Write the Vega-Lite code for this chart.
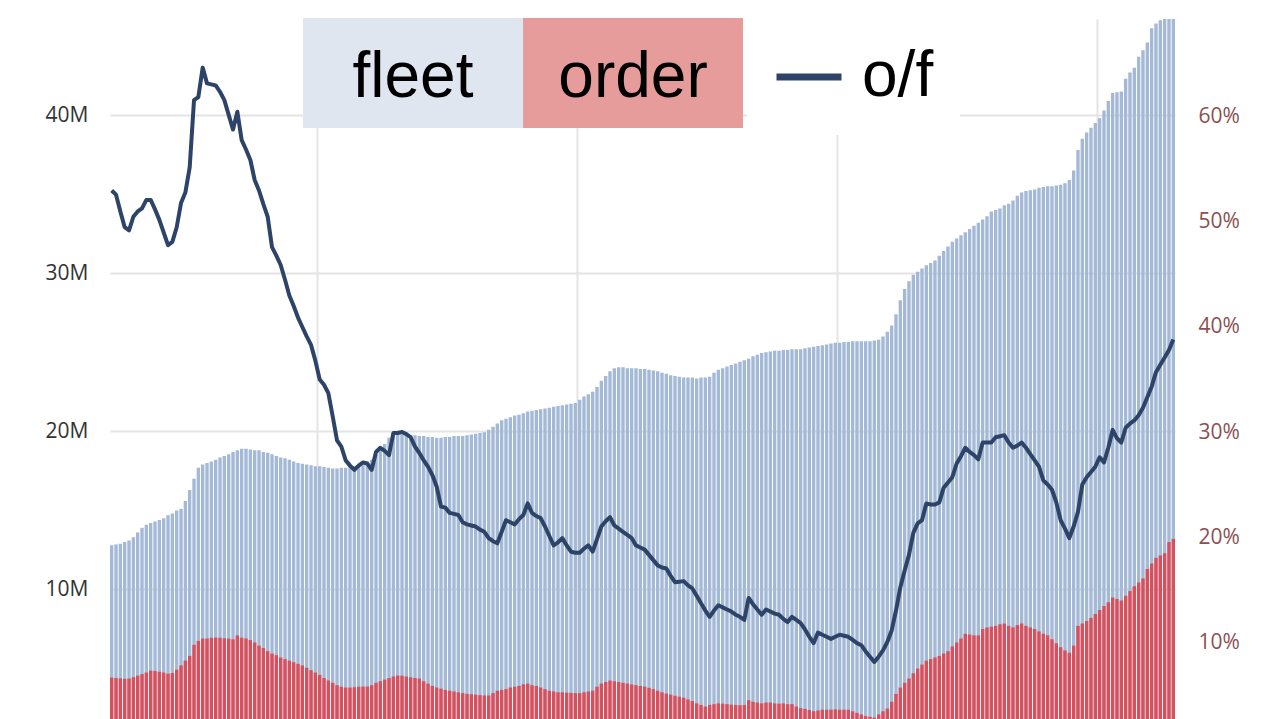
{
  "$schema": "https://vega.github.io/schema/vega-lite/v6.json",
  "width": 1065,
  "height": 700,
  "autosize": {"type": "none"},
  "padding": {"left": 110, "top": 19, "right": 105, "bottom": 0},
  "background": "white",
  "view": {"stroke": null},
  "config": {
    "axis": {"labelFont": "Open Sans", "titleFont": "Open Sans"},
    "legend": {"labelFont": "Liberation Sans"}
  },
  "data": {
    "values": [
      {"m":"2001-01","fleet":12.8,"order":4.43,"of":53.0},{"m":"2001-02","fleet":12.85,"order":4.4,"of":52.6},{"m":"2001-03","fleet":12.9,"order":4.38,"of":51.0},{"m":"2001-04","fleet":13.0,"order":4.35,"of":49.5},{"m":"2001-05","fleet":13.1,"order":4.37,"of":49.2},{"m":"2001-06","fleet":13.3,"order":4.45,"of":50.5},{"m":"2001-07","fleet":13.6,"order":4.55,"of":51.0},{"m":"2001-08","fleet":13.9,"order":4.65,"of":51.3},{"m":"2001-09","fleet":14.1,"order":4.75,"of":52.1},{"m":"2001-10","fleet":14.2,"order":4.87,"of":52.1},{"m":"2001-11","fleet":14.3,"order":4.85,"of":51.2},{"m":"2001-12","fleet":14.4,"order":4.8,"of":50.2},
      {"m":"2002-01","fleet":14.5,"order":4.75,"of":49.0},{"m":"2002-02","fleet":14.7,"order":4.68,"of":47.8},{"m":"2002-03","fleet":14.8,"order":4.72,"of":48.1},{"m":"2002-04","fleet":15.0,"order":4.93,"of":49.5},{"m":"2002-05","fleet":15.1,"order":5.2,"of":51.8},{"m":"2002-06","fleet":15.6,"order":5.5,"of":52.8},{"m":"2002-07","fleet":16.3,"order":5.8,"of":55.2},{"m":"2002-08","fleet":17.0,"order":6.5,"of":61.6},{"m":"2002-09","fleet":17.7,"order":6.75,"of":61.9},{"m":"2002-10","fleet":17.9,"order":6.9,"of":64.7},{"m":"2002-11","fleet":18.0,"order":6.9,"of":63.2},{"m":"2002-12","fleet":18.1,"order":6.95,"of":63.1},
      {"m":"2003-01","fleet":18.2,"order":6.96,"of":63.0},{"m":"2003-02","fleet":18.35,"order":6.95,"of":62.4},{"m":"2003-03","fleet":18.45,"order":6.92,"of":61.6},{"m":"2003-04","fleet":18.55,"order":6.9,"of":60.2},{"m":"2003-05","fleet":18.7,"order":6.85,"of":58.8},{"m":"2003-06","fleet":18.8,"order":7.1,"of":60.5},{"m":"2003-07","fleet":18.9,"order":6.95,"of":57.8},{"m":"2003-08","fleet":18.9,"order":6.9,"of":56.9},{"m":"2003-09","fleet":18.85,"order":6.8,"of":55.9},{"m":"2003-10","fleet":18.8,"order":6.65,"of":54.0},{"m":"2003-11","fleet":18.8,"order":6.45,"of":53.0},{"m":"2003-12","fleet":18.7,"order":6.3,"of":51.7},
      {"m":"2004-01","fleet":18.65,"order":6.1,"of":50.5},{"m":"2004-02","fleet":18.55,"order":5.95,"of":47.6},{"m":"2004-03","fleet":18.45,"order":5.85,"of":46.8},{"m":"2004-04","fleet":18.35,"order":5.7,"of":45.9},{"m":"2004-05","fleet":18.3,"order":5.6,"of":44.5},{"m":"2004-06","fleet":18.2,"order":5.5,"of":43.0},{"m":"2004-07","fleet":18.1,"order":5.4,"of":42.0},{"m":"2004-08","fleet":18.0,"order":5.3,"of":40.9},{"m":"2004-09","fleet":17.95,"order":5.2,"of":40.0},{"m":"2004-10","fleet":17.9,"order":5.05,"of":39.1},{"m":"2004-11","fleet":17.85,"order":4.9,"of":38.3},{"m":"2004-12","fleet":17.8,"order":4.75,"of":36.8},
      {"m":"2005-01","fleet":17.8,"order":4.6,"of":35.0},{"m":"2005-02","fleet":17.75,"order":4.4,"of":34.5},{"m":"2005-03","fleet":17.7,"order":4.25,"of":33.7},{"m":"2005-04","fleet":17.65,"order":4.1,"of":31.5},{"m":"2005-05","fleet":17.65,"order":3.95,"of":29.2},{"m":"2005-06","fleet":17.7,"order":3.85,"of":28.6},{"m":"2005-07","fleet":17.7,"order":3.8,"of":27.3},{"m":"2005-08","fleet":17.75,"order":3.8,"of":26.8},{"m":"2005-09","fleet":17.8,"order":3.82,"of":26.4},{"m":"2005-10","fleet":17.85,"order":3.85,"of":26.8},{"m":"2005-11","fleet":17.85,"order":3.86,"of":27.1},{"m":"2005-12","fleet":17.9,"order":3.86,"of":27.0},
      {"m":"2006-01","fleet":18.2,"order":3.95,"of":26.4},{"m":"2006-02","fleet":18.5,"order":4.1,"of":28.1},{"m":"2006-03","fleet":18.8,"order":4.2,"of":28.5},{"m":"2006-04","fleet":19.2,"order":4.3,"of":28.2},{"m":"2006-05","fleet":19.6,"order":4.4,"of":27.8},{"m":"2006-06","fleet":19.9,"order":4.5,"of":29.9},{"m":"2006-07","fleet":19.85,"order":4.56,"of":29.9},{"m":"2006-08","fleet":19.8,"order":4.55,"of":30.0},{"m":"2006-09","fleet":19.8,"order":4.5,"of":29.8},{"m":"2006-10","fleet":19.75,"order":4.45,"of":29.5},{"m":"2006-11","fleet":19.75,"order":4.4,"of":28.6},{"m":"2006-12","fleet":19.7,"order":4.37,"of":28.0},
      {"m":"2007-01","fleet":19.7,"order":4.2,"of":27.3},{"m":"2007-02","fleet":19.65,"order":4.05,"of":26.7},{"m":"2007-03","fleet":19.65,"order":3.9,"of":25.9},{"m":"2007-04","fleet":19.6,"order":3.8,"of":24.8},{"m":"2007-05","fleet":19.6,"order":3.73,"of":22.9},{"m":"2007-06","fleet":19.65,"order":3.65,"of":22.8},{"m":"2007-07","fleet":19.65,"order":3.6,"of":22.3},{"m":"2007-08","fleet":19.7,"order":3.55,"of":22.2},{"m":"2007-09","fleet":19.7,"order":3.5,"of":22.1},{"m":"2007-10","fleet":19.7,"order":3.45,"of":21.4},{"m":"2007-11","fleet":19.75,"order":3.4,"of":21.2},{"m":"2007-12","fleet":19.8,"order":3.38,"of":21.1},
      {"m":"2008-01","fleet":19.85,"order":3.35,"of":21.0},{"m":"2008-02","fleet":19.9,"order":3.32,"of":20.7},{"m":"2008-03","fleet":19.95,"order":3.3,"of":20.5},{"m":"2008-04","fleet":20.1,"order":3.3,"of":19.9},{"m":"2008-05","fleet":20.3,"order":3.45,"of":19.6},{"m":"2008-06","fleet":20.5,"order":3.6,"of":19.4},{"m":"2008-07","fleet":20.7,"order":3.65,"of":20.5},{"m":"2008-08","fleet":20.8,"order":3.7,"of":21.6},{"m":"2008-09","fleet":20.9,"order":3.8,"of":21.4},{"m":"2008-10","fleet":21.0,"order":3.85,"of":21.2},{"m":"2008-11","fleet":21.05,"order":3.9,"of":21.7},{"m":"2008-12","fleet":21.15,"order":4.0,"of":22.1},
      {"m":"2009-01","fleet":21.25,"order":4.05,"of":23.2},{"m":"2009-02","fleet":21.3,"order":3.95,"of":22.3},{"m":"2009-03","fleet":21.35,"order":3.9,"of":22.0},{"m":"2009-04","fleet":21.4,"order":3.8,"of":21.8},{"m":"2009-05","fleet":21.45,"order":3.7,"of":21.0},{"m":"2009-06","fleet":21.5,"order":3.6,"of":20.1},{"m":"2009-07","fleet":21.55,"order":3.55,"of":19.2},{"m":"2009-08","fleet":21.6,"order":3.5,"of":19.5},{"m":"2009-09","fleet":21.65,"order":3.5,"of":19.9},{"m":"2009-10","fleet":21.7,"order":3.48,"of":19.2},{"m":"2009-11","fleet":21.75,"order":3.46,"of":18.6},{"m":"2009-12","fleet":21.8,"order":3.45,"of":18.5},
      {"m":"2010-01","fleet":22.0,"order":3.45,"of":18.5},{"m":"2010-02","fleet":22.2,"order":3.5,"of":18.9},{"m":"2010-03","fleet":22.35,"order":3.55,"of":19.2},{"m":"2010-04","fleet":22.5,"order":3.6,"of":18.6},{"m":"2010-05","fleet":22.8,"order":3.85,"of":19.8},{"m":"2010-06","fleet":23.2,"order":4.05,"of":21.0},{"m":"2010-07","fleet":23.5,"order":4.15,"of":21.5},{"m":"2010-08","fleet":23.8,"order":4.24,"of":21.9},{"m":"2010-09","fleet":24.0,"order":4.2,"of":21.1},{"m":"2010-10","fleet":24.05,"order":4.15,"of":20.8},{"m":"2010-11","fleet":24.05,"order":4.1,"of":20.5},{"m":"2010-12","fleet":24.0,"order":4.05,"of":20.2},
      {"m":"2011-01","fleet":24.0,"order":4.0,"of":19.9},{"m":"2011-02","fleet":24.0,"order":3.95,"of":19.2},{"m":"2011-03","fleet":23.95,"order":3.9,"of":19.0},{"m":"2011-04","fleet":23.95,"order":3.86,"of":18.8},{"m":"2011-05","fleet":23.9,"order":3.78,"of":18.3},{"m":"2011-06","fleet":23.85,"order":3.7,"of":17.8},{"m":"2011-07","fleet":23.8,"order":3.6,"of":17.3},{"m":"2011-08","fleet":23.7,"order":3.5,"of":17.1},{"m":"2011-09","fleet":23.65,"order":3.42,"of":17.0},{"m":"2011-10","fleet":23.55,"order":3.35,"of":16.3},{"m":"2011-11","fleet":23.5,"order":3.28,"of":15.7},{"m":"2011-12","fleet":23.45,"order":3.22,"of":15.75},
      {"m":"2012-01","fleet":23.4,"order":3.16,"of":15.8},{"m":"2012-02","fleet":23.4,"order":3.05,"of":15.4},{"m":"2012-03","fleet":23.4,"order":2.95,"of":15.1},{"m":"2012-04","fleet":23.35,"order":2.8,"of":14.4},{"m":"2012-05","fleet":23.4,"order":2.7,"of":13.7},{"m":"2012-06","fleet":23.4,"order":2.6,"of":13.0},{"m":"2012-07","fleet":23.45,"order":2.7,"of":12.4},{"m":"2012-08","fleet":23.7,"order":2.75,"of":13.0},{"m":"2012-09","fleet":23.9,"order":2.8,"of":13.5},{"m":"2012-10","fleet":24.0,"order":2.78,"of":13.3},{"m":"2012-11","fleet":24.1,"order":2.75,"of":13.1},{"m":"2012-12","fleet":24.2,"order":2.72,"of":12.9},
      {"m":"2013-01","fleet":24.3,"order":2.7,"of":12.6},{"m":"2013-02","fleet":24.4,"order":2.68,"of":12.4},{"m":"2013-03","fleet":24.5,"order":2.7,"of":12.1},{"m":"2013-04","fleet":24.6,"order":3.0,"of":14.2},{"m":"2013-05","fleet":24.75,"order":2.9,"of":13.6},{"m":"2013-06","fleet":24.85,"order":2.85,"of":13.1},{"m":"2013-07","fleet":24.95,"order":2.8,"of":12.6},{"m":"2013-08","fleet":25.0,"order":2.85,"of":13.1},{"m":"2013-09","fleet":25.05,"order":2.85,"of":12.9},{"m":"2013-10","fleet":25.1,"order":2.8,"of":12.7},{"m":"2013-11","fleet":25.1,"order":2.78,"of":12.6},{"m":"2013-12","fleet":25.15,"order":2.8,"of":12.2},
      {"m":"2014-01","fleet":25.15,"order":2.75,"of":11.9},{"m":"2014-02","fleet":25.2,"order":2.75,"of":12.4},{"m":"2014-03","fleet":25.2,"order":2.6,"of":12.1},{"m":"2014-04","fleet":25.2,"order":2.5,"of":11.8},{"m":"2014-05","fleet":25.25,"order":2.45,"of":11.2},{"m":"2014-06","fleet":25.3,"order":2.38,"of":10.5},{"m":"2014-07","fleet":25.35,"order":2.3,"of":9.9},{"m":"2014-08","fleet":25.4,"order":2.35,"of":10.9},{"m":"2014-09","fleet":25.45,"order":2.4,"of":10.7},{"m":"2014-10","fleet":25.5,"order":2.4,"of":10.5},{"m":"2014-11","fleet":25.55,"order":2.4,"of":10.3},{"m":"2014-12","fleet":25.6,"order":2.42,"of":10.5},
      {"m":"2015-01","fleet":25.6,"order":2.4,"of":10.7},{"m":"2015-02","fleet":25.65,"order":2.4,"of":10.6},{"m":"2015-03","fleet":25.65,"order":2.4,"of":10.5},{"m":"2015-04","fleet":25.7,"order":2.3,"of":10.2},{"m":"2015-05","fleet":25.7,"order":2.2,"of":9.9},{"m":"2015-06","fleet":25.7,"order":2.1,"of":9.7},{"m":"2015-07","fleet":25.7,"order":2.0,"of":9.1},{"m":"2015-08","fleet":25.7,"order":1.95,"of":8.6},{"m":"2015-09","fleet":25.75,"order":1.9,"of":8.1},{"m":"2015-10","fleet":25.8,"order":2.1,"of":8.6},{"m":"2015-11","fleet":26.0,"order":2.3,"of":9.2},{"m":"2015-12","fleet":26.3,"order":2.47,"of":10.0},
      {"m":"2016-01","fleet":26.7,"order":2.9,"of":11.1},{"m":"2016-02","fleet":27.4,"order":3.4,"of":13.0},{"m":"2016-03","fleet":28.3,"order":3.8,"of":15.2},{"m":"2016-04","fleet":29.0,"order":4.1,"of":16.8},{"m":"2016-05","fleet":29.5,"order":4.37,"of":18.3},{"m":"2016-06","fleet":29.9,"order":4.7,"of":20.4},{"m":"2016-07","fleet":30.1,"order":5.0,"of":21.3},{"m":"2016-08","fleet":30.3,"order":5.25,"of":21.6},{"m":"2016-09","fleet":30.5,"order":5.5,"of":23.2},{"m":"2016-10","fleet":30.65,"order":5.6,"of":23.1},{"m":"2016-11","fleet":30.8,"order":5.7,"of":23.1},{"m":"2016-12","fleet":31.1,"order":5.8,"of":23.3},
      {"m":"2017-01","fleet":31.4,"order":5.95,"of":24.7},{"m":"2017-02","fleet":31.7,"order":6.1,"of":25.2},{"m":"2017-03","fleet":32.0,"order":6.4,"of":25.7},{"m":"2017-04","fleet":32.2,"order":6.65,"of":27.0},{"m":"2017-05","fleet":32.4,"order":6.9,"of":27.7},{"m":"2017-06","fleet":32.6,"order":7.2,"of":28.5},{"m":"2017-07","fleet":32.8,"order":7.15,"of":28.1},{"m":"2017-08","fleet":33.0,"order":7.1,"of":27.8},{"m":"2017-09","fleet":33.2,"order":7.1,"of":27.4},{"m":"2017-10","fleet":33.4,"order":7.5,"of":29.0},{"m":"2017-11","fleet":33.6,"order":7.6,"of":29.0},{"m":"2017-12","fleet":33.9,"order":7.65,"of":29.0},
      {"m":"2018-01","fleet":34.0,"order":7.7,"of":29.5},{"m":"2018-02","fleet":34.1,"order":7.8,"of":29.6},{"m":"2018-03","fleet":34.3,"order":7.85,"of":29.7},{"m":"2018-04","fleet":34.4,"order":7.7,"of":29.0},{"m":"2018-05","fleet":34.6,"order":7.6,"of":28.5},{"m":"2018-06","fleet":34.9,"order":7.75,"of":28.7},{"m":"2018-07","fleet":35.1,"order":7.85,"of":29.0},{"m":"2018-08","fleet":35.2,"order":7.7,"of":28.5},{"m":"2018-09","fleet":35.25,"order":7.6,"of":27.9},{"m":"2018-10","fleet":35.3,"order":7.5,"of":27.3},{"m":"2018-11","fleet":35.4,"order":7.35,"of":26.7},{"m":"2018-12","fleet":35.45,"order":7.2,"of":25.4},
      {"m":"2019-01","fleet":35.5,"order":7.1,"of":25.0},{"m":"2019-02","fleet":35.5,"order":6.85,"of":24.5},{"m":"2019-03","fleet":35.55,"order":6.6,"of":23.3},{"m":"2019-04","fleet":35.6,"order":6.35,"of":21.6},{"m":"2019-05","fleet":35.7,"order":6.15,"of":20.8},{"m":"2019-06","fleet":35.9,"order":6.0,"of":19.9},{"m":"2019-07","fleet":36.5,"order":6.45,"of":21.0},{"m":"2019-08","fleet":37.8,"order":7.7,"of":22.4},{"m":"2019-09","fleet":38.5,"order":7.85,"of":25.0},{"m":"2019-10","fleet":38.9,"order":8.0,"of":25.7},{"m":"2019-11","fleet":39.2,"order":8.2,"of":26.2},{"m":"2019-12","fleet":39.5,"order":8.45,"of":26.7},
      {"m":"2020-01","fleet":39.8,"order":8.7,"of":27.6},{"m":"2020-02","fleet":40.3,"order":8.95,"of":27.1},{"m":"2020-03","fleet":40.9,"order":9.2,"of":28.5},{"m":"2020-04","fleet":41.4,"order":9.5,"of":30.2},{"m":"2020-05","fleet":41.45,"order":9.4,"of":29.4},{"m":"2020-06","fleet":41.5,"order":9.3,"of":29.0},{"m":"2020-07","fleet":42.3,"order":9.6,"of":30.4},{"m":"2020-08","fleet":42.7,"order":9.9,"of":30.8},{"m":"2020-09","fleet":43.0,"order":10.2,"of":31.1},{"m":"2020-10","fleet":43.7,"order":10.45,"of":31.6},{"m":"2020-11","fleet":44.1,"order":10.7,"of":32.3},{"m":"2020-12","fleet":44.6,"order":11.3,"of":33.3},
      {"m":"2021-01","fleet":45.5,"order":11.65,"of":34.3},{"m":"2021-02","fleet":45.8,"order":12.0,"of":35.7},{"m":"2021-03","fleet":46.0,"order":12.15,"of":36.4},{"m":"2021-04","fleet":46.3,"order":12.3,"of":37.1},{"m":"2021-05","fleet":46.3,"order":13.0,"of":37.8},{"m":"2021-06","fleet":46.3,"order":13.2,"of":38.8}
    ]
  },
  "encoding": {
    "x": {
      "field": "m",
      "type": "ordinal",
      "scale": {"paddingInner": 0.22, "paddingOuter": 0},
      "axis": {
        "values": ["2005-01", "2010-01", "2015-01", "2020-01"],
        "bandPosition": 0,
        "grid": true,
        "gridColor": "#e4e4e4",
        "gridWidth": 2,
        "labels": false,
        "ticks": false,
        "domain": false,
        "title": null
      }
    }
  },
  "layer": [
    {
      "encoding": {
        "y": {
          "type": "quantitative",
          "scale": {"domain": [1.81, 46.08]},
          "axis": {
            "values": [10, 20, 30, 40],
            "labelExpr": "datum.value + 'M'",
            "grid": true,
            "gridColor": "#e4e4e4",
            "gridWidth": 2,
            "domain": false,
            "ticks": false,
            "tickSize": 0,
            "labelPadding": 22,
            "labelFontSize": 21,
            "labelColor": "#333333",
            "title": null
          }
        }
      },
      "layer": [
        {
          "mark": {"type": "bar", "clip": true, "color": "#a4b9d6"},
          "encoding": {"y": {"field": "fleet"}}
        },
        {
          "mark": {"type": "bar", "clip": true, "color": "#d9505d"},
          "encoding": {"y": {"field": "order"}}
        },
        {
          "transform": [{"fold": ["fleet", "order"], "as": ["series", "val"]}],
          "mark": {"type": "square", "opacity": 0, "clip": true},
          "encoding": {
            "y": {"field": "val"},
            "color": {
              "field": "series",
              "type": "nominal",
              "scale": {"domain": ["fleet", "order"], "range": ["#dfe6ef", "#e59c9a"]},
              "legend": {
                "orient": "none",
                "legendX": 193,
                "legendY": -51,
                "direction": "horizontal",
                "title": null,
                "padding": 0,
                "columnPadding": 0,
                "symbolType": "M-1,-0.5455H1V0.4545H-1Z",
                "symbolSize": 48400,
                "symbolStrokeWidth": 0,
                "symbolOpacity": 1,
                "labelAlign": "center",
                "labelOffset": -110,
                "labelFontSize": 64,
                "labelColor": "black",
                "labelLimit": 400
              }
            }
          }
        }
      ]
    },
    {
      "mark": {"type": "line", "strokeWidth": 4, "strokeJoin": "round", "clip": true},
      "encoding": {
        "y": {
          "field": "of",
          "type": "quantitative",
          "scale": {"domain": [2.67, 69.33]},
          "axis": {
            "orient": "right",
            "values": [10, 20, 30, 40, 50, 60],
            "labelExpr": "datum.value + '%'",
            "grid": false,
            "domain": false,
            "ticks": false,
            "tickSize": 0,
            "labelPadding": 23,
            "labelFontSize": 21,
            "labelColor": "#8c4f52",
            "title": null
          }
        },
        "stroke": {
          "datum": "o/f",
          "type": "nominal",
          "scale": {"range": ["#2d4468"]},
          "legend": {
            "orient": "none",
            "legendX": 637,
            "legendY": -4,
            "title": null,
            "padding": 26,
            "fillColor": "white",
            "symbolType": "stroke",
            "symbolSize": 4225,
            "symbolStrokeWidth": 7,
            "labelOffset": 17,
            "labelFontSize": 64,
            "labelColor": "black"
          }
        }
      }
    }
  ],
  "resolve": {"scale": {"y": "independent"}}
}
